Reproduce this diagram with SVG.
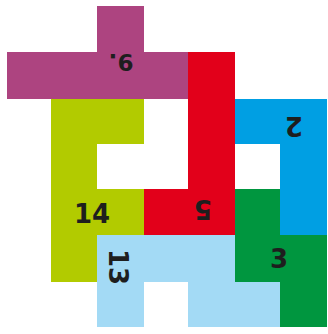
<svg xmlns="http://www.w3.org/2000/svg" width="328" height="334" viewBox="0 0 328 334">
<style>
.lbl{font-family:"DejaVu Sans",Verdana,sans-serif;font-weight:bold;font-size:26px;fill:#1e1e1e;text-anchor:middle}
</style>
<rect width="328" height="334" fill="#ffffff"/>
<g id="p9">
<path d="M97 6H144V52H188V99H7V52H97Z" fill="#ad4480"/>
<text class="lbl" transform="translate(121 62) rotate(180)" y="8.5" style="font-size:23px">9.</text>
</g>
<g id="p5">
<path d="M188 52H235V235H144V189H188Z" fill="#e2001a"/>
<text class="lbl" transform="translate(203 209) rotate(180)" y="9.5">5</text>
</g>
<g id="p2">
<path d="M235 99H327V235H280V144H235Z" fill="#009fe3"/>
<text class="lbl" transform="translate(294 126) rotate(180)" y="9.5">2</text>
</g>
<g id="p3">
<path d="M235 189H280V235H327V327H280V282H235Z" fill="#00963f"/>
<text class="lbl" x="279" y="267.5">3</text>
</g>
<g id="p13">
<path d="M97 235H235V282H280V327H188V282H144V327H97Z" fill="#a3daf5"/>
<text class="lbl" transform="translate(118 267) rotate(90)" y="9.5">13</text>
</g>
<g id="p14">
<path d="M51 99H144V144H97V189H144V235H97V282H51Z" fill="#b2cb00"/>
<text class="lbl" x="92" y="222.5">14</text>
</g>
<g id="connectors"></g>
</svg>
